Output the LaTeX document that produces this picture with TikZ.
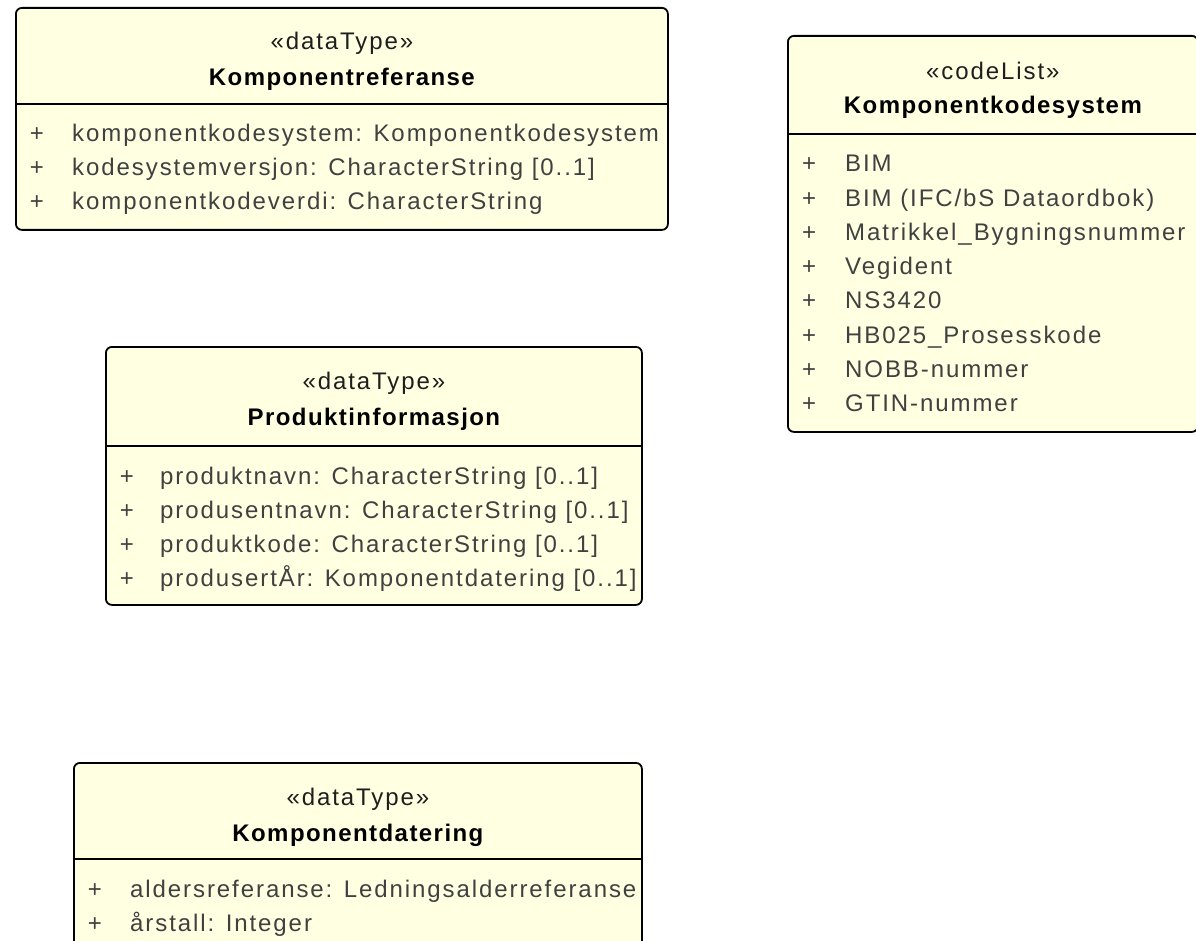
\documentclass[tikz,border=0pt]{standalone}
\usepackage{fontspec}
\setmainfont{Liberation Sans}
\newfontfamily\umlreg{Liberation Sans}[LetterSpace=8]
\newfontfamily\umlbold{Liberation Sans}[LetterSpace=6,UprightFont={* Bold}]
\definecolor{umlfill}{RGB}{255,255,226}
\definecolor{itemgray}{RGB}{64,64,64}
\definecolor{stereogray}{RGB}{30,30,30}
\tikzset{
  umlbox/.style={draw=black, line width=1.8pt, rounded corners=6pt, fill=umlfill,
    anchor=north west, inner sep=0pt},
  divider/.style={draw=black, line width=1.8pt},
  stereo/.style={anchor=base, inner sep=0pt, text=stereogray, font=\umlreg\fontsize{24}{28}\selectfont},
  cname/.style={anchor=base, inner sep=0pt, text=black, font=\umlbold\fontsize{24}{28}\selectfont},
  item/.style={anchor=base west, inner sep=0pt, text=itemgray, font=\umlreg\fontsize{24}{28}\selectfont},
  plus/.style={anchor=base, inner sep=0pt, text=itemgray, font=\umlreg\fontsize{24}{28}\selectfont},
}
\begin{document}
\begin{tikzpicture}[x=1pt,y=-1pt]
\useasboundingbox[fill=white] (0,0) rectangle (1196,941);

% ---- Komponentreferanse
\node[umlbox, minimum width=652pt, minimum height=222pt] (b1) at (15,7) {};
\draw[divider] ([yshift=-97pt]b1.north west) -- ([yshift=-97pt]b1.north east);
\node[stereo] (b1s) at ([yshift=-43pt]b1.north) {«dataType»};
\node[cname] (b1n) at ([yshift=-79pt]b1.north) {Komponentreferanse};
\node[plus] (b1p1) at ([xshift=22pt,yshift=-135pt]b1.north west) {+};
\node[item] (b1i1) at ([xshift=57pt,yshift=-135pt]b1.north west) {komponentkodesystem: Komponentkodesystem};
\node[plus] (b1p2) at ([xshift=22pt,yshift=-169pt]b1.north west) {+};
\node[item] (b1i2) at ([xshift=57pt,yshift=-169pt]b1.north west) {kodesystemversjon: CharacterString [0..1]};
\node[plus] (b1p3) at ([xshift=22pt,yshift=-203pt]b1.north west) {+};
\node[item] (b1i3) at ([xshift=57pt,yshift=-203pt]b1.north west) {komponentkodeverdi: CharacterString};

% ---- Komponentkodesystem
\node[umlbox, minimum width=410pt, minimum height=396pt] (b2) at (787,35) {};
\draw[divider] ([yshift=-99pt]b2.north west) -- ([yshift=-99pt]b2.north east);
\node[stereo] (b2s) at ([yshift=-45pt]b2.north) {«codeList»};
\node[cname] (b2n) at ([yshift=-79pt]b2.north) {Komponentkodesystem};
\foreach \t [count=\i from 0] in {BIM, BIM (IFC/bS Dataordbok), Matrikkel\_Bygningsnummer, Vegident, NS3420, HB025\_Prosesskode, NOBB-nummer, GTIN-nummer}{
  \node[plus] (b2p\i) at ([xshift=22pt,yshift={-137pt-34.2pt*\i}]b2.north west) {+};
  \node[item] (b2i\i) at ([xshift=58pt,yshift={-137pt-34.2pt*\i}]b2.north west) {\t};
}

% ---- Produktinformasjon
\node[umlbox, minimum width=536pt, minimum height=258pt] (b3) at (105,346) {};
\draw[divider] ([yshift=-100pt]b3.north west) -- ([yshift=-100pt]b3.north east);
\node[stereo] (b3s) at ([yshift=-43pt]b3.north) {«dataType»};
\node[cname] (b3n) at ([yshift=-79pt]b3.north) {Produktinformasjon};
\node[plus] (b3p1) at ([xshift=22pt,yshift=-138pt]b3.north west) {+};
\node[item] (b3i1) at ([xshift=55pt,yshift=-138pt]b3.north west) {produktnavn: CharacterString [0..1]};
\node[plus] (b3p2) at ([xshift=22pt,yshift=-172pt]b3.north west) {+};
\node[item] (b3i2) at ([xshift=55pt,yshift=-172pt]b3.north west) {produsentnavn: CharacterString [0..1]};
\node[plus] (b3p3) at ([xshift=22pt,yshift=-206pt]b3.north west) {+};
\node[item] (b3i3) at ([xshift=55pt,yshift=-206pt]b3.north west) {produktkode: CharacterString [0..1]};
\node[plus] (b3p4) at ([xshift=22pt,yshift=-240pt]b3.north west) {+};
\node[item] (b3i4) at ([xshift=55pt,yshift=-240pt]b3.north west) {produsertÅr: Komponentdatering [0..1]};

% ---- Komponentdatering
\node[umlbox, minimum width=568pt, minimum height=200pt] (b4) at (73,762) {};
\draw[divider] ([yshift=-97pt]b4.north west) -- ([yshift=-97pt]b4.north east);
\node[stereo] (b4s) at ([yshift=-43pt]b4.north) {«dataType»};
\node[cname] (b4n) at ([yshift=-79pt]b4.north) {Komponentdatering};
\node[plus] (b4p1) at ([xshift=22pt,yshift=-135pt]b4.north west) {+};
\node[item] (b4i1) at ([xshift=57pt,yshift=-135pt]b4.north west) {aldersreferanse: Ledningsalderreferanse};
\node[plus] (b4p2) at ([xshift=22pt,yshift=-169pt]b4.north west) {+};
\node[item] (b4i2) at ([xshift=57pt,yshift=-169pt]b4.north west) {årstall: Integer};
\end{tikzpicture}
\end{document}
